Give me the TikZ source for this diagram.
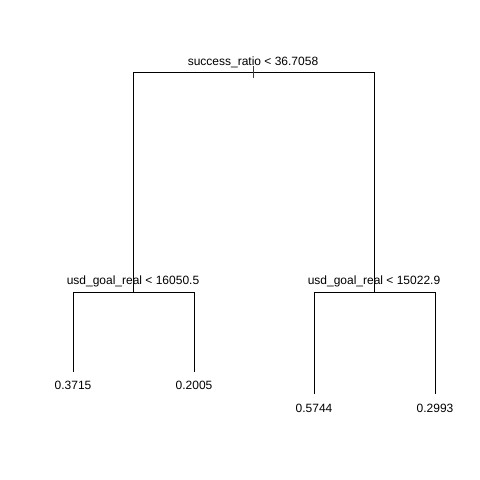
\documentclass[tikz,border=0pt]{standalone}
\usepackage{fontspec}
\setmainfont{Liberation Sans}
\usepackage{xcolor}
\usetikzlibrary{positioning, calc}

\definecolor{tickgreen}{RGB}{0,100,0}

\begin{document}
\begin{tikzpicture}[
    x=1pt, y=-1pt,
    split/.style={anchor=base, inner sep=0pt, font=\fontsize{12}{14}\selectfont},
    leaf/.style={anchor=base, inner sep=0pt, font=\fontsize{12}{14}\selectfont},
    edge/.style={draw=black, line width=0.8pt},
    tick/.style={draw=tickgreen, line width=0.8pt}
]
    \useasboundingbox (0,0) rectangle (480,480);

    % Split points
    \coordinate (root) at (253,72);
    \coordinate (lsplit) at (133,292);
    \coordinate (rsplit) at (374,292);

    % Leaves
    \coordinate (leafA) at (73,372);
    \coordinate (leafB) at (194,372);
    \coordinate (leafC) at (314,394);
    \coordinate (leafD) at (435,394);

    % Labels
    \node (rootlab) [split] at (253,65) {success\_ratio < 36.7058};
    \node (llab) [split] at (133,284) {usd\_goal\_real < 16050.5};
    \node (rlab) [split] at (374,284) {usd\_goal\_real < 15022.9};
    \node (leafAlab) [leaf] at (73,389) {0.3715};
    \node (leafBlab) [leaf] at (194,389) {0.2005};
    \node (leafClab) [leaf] at (314,412) {0.5744};
    \node (leafDlab) [leaf] at (435,412) {0.2993};

    % Edges
    \draw [edge] (root) -| (lsplit);
    \draw [edge] (root) -| (rsplit);
    \draw [edge] (lsplit) -| (leafA);
    \draw [edge] (lsplit) -| (leafB);
    \draw [edge] (rsplit) -| (leafC);
    \draw [edge] (rsplit) -| (leafD);

    % Tick
    \coordinate (tickT) at ($(root)+(0,-6)$);
    \coordinate (tickB) at ($(root)+(0,6)$);
    \draw [tick] (tickT) -- (tickB);
\end{tikzpicture}
\end{document}
